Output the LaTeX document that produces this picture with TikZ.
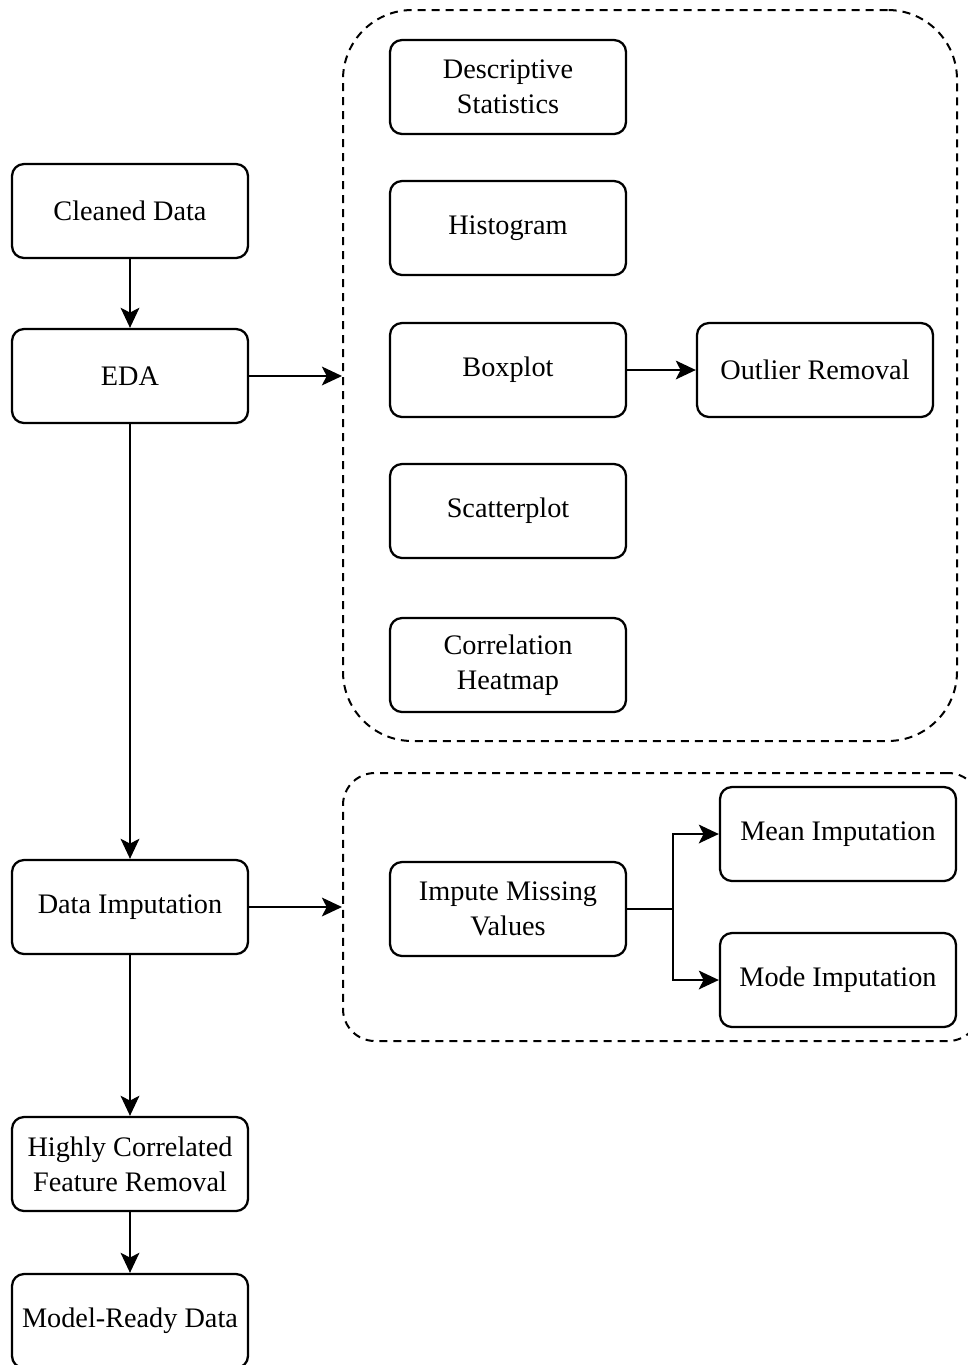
\documentclass[tikz,border=0pt]{standalone}
\usepackage{fontspec}
\setmainfont{Liberation Serif}
\usetikzlibrary{arrows.meta}
\begin{document}
\begin{tikzpicture}[x=0.75pt,y=-0.75pt,
  box/.style={draw, line width=1.7pt, rounded corners=9pt, minimum width=177pt, minimum height=70.5pt, inner sep=0pt, align=center, font=\fontsize{21.2}{26.3}\selectfont},
  grp/.style={draw, line width=1.5pt, dash pattern=on 6pt off 4.5pt, inner sep=0pt},
  arr/.style={line width=1.7pt, -{Stealth[length=15pt,width=14pt,inset=3.5pt]}}]
\useasboundingbox (0,0) rectangle (968,1365);
% groups
\node[grp, rounded corners=52pt, minimum width=460.5pt, minimum height=548.25pt] (g1) at (650,375.5) {};
\node[grp, rounded corners=24pt, minimum width=477.75pt, minimum height=201pt] (g2) at (661.5,907) {};
% left column
\node[box] (cd) at (130,211) {Cleaned Data};
\node[box] (eda) at (130,376) {EDA};
\node[box] (di) at (130,907) {Data Imputation};
\node[box] (hc) at (130,1164) {Highly Correlated\\Feature Removal};
\node[box] (mr) at (130,1321) {Model-Ready Data};
% EDA group
\node[box] (ds) at (508,87) {Descriptive\\Statistics};
\node[box] (hi) at (508,228) {Histogram};
\node[box] (bp) at (508,370) {Boxplot};
\node[box] (or) at (815,370) {Outlier Removal};
\node[box] (sp) at (508,511) {Scatterplot};
\node[box] (ch) at (508,665) {Correlation\\Heatmap};
% imputation group
\node[box] (imv) at (508,909) {Impute Missing\\Values};
\node[box] (mi) at (838,834) {Mean Imputation};
\node[box] (mo) at (838,980) {Mode Imputation};
% connectors
\draw[arr] (cd) -- (eda);
\draw[arr] (eda) -- (di);
\draw[arr] (di) -- (hc);
\draw[arr] (hc) -- (mr);
\draw[arr] (eda.east) -- (g1.west |- eda.east);
\draw[arr] (di.east) -- (g2.west |- di.east);
\draw[arr] (bp) -- (or);
\coordinate (j) at (673,909);
\draw[arr] (imv.east) -- (j) |- (mi.west);
\draw[arr] (j) |- (mo.west);
\end{tikzpicture}
\end{document}
